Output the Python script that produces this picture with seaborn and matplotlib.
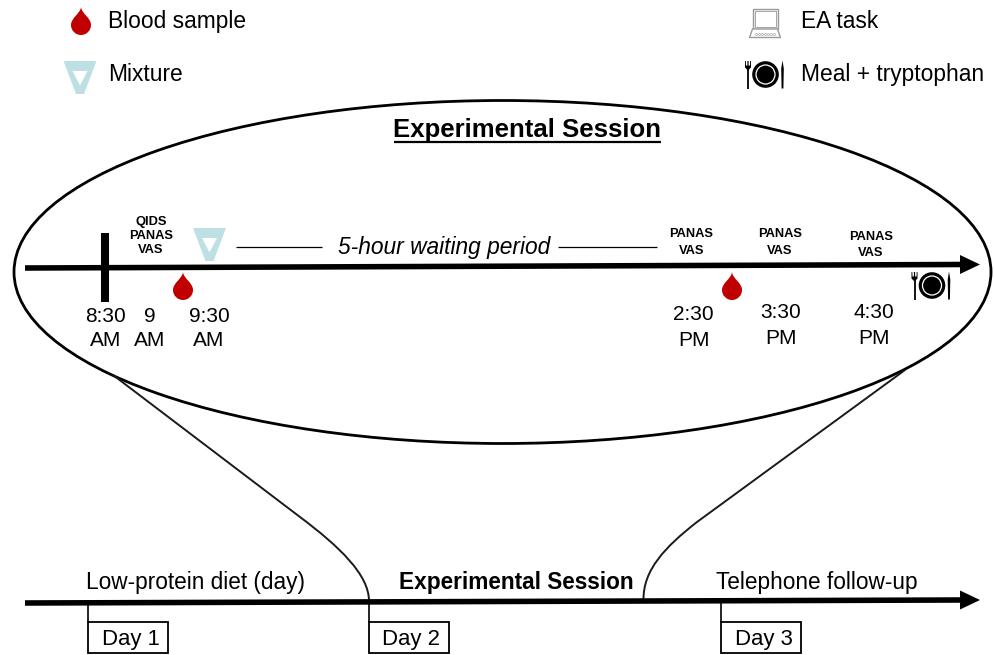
import matplotlib
matplotlib.use("Agg")
import matplotlib.pyplot as plt
import seaborn as sns
import numpy as np
from matplotlib.patches import Ellipse, PathPatch, Polygon, Rectangle, Circle
from matplotlib.path import Path

sns.set_theme(style="white")
plt.rcParams['font.family'] = ['Liberation Sans', 'DejaVu Sans']

# ---- content ----
legend_left = ["Blood sample", "Mixture"]
legend_right = ["EA task", "Meal + tryptophan"]
session_title = "Experimental Session"
waiting_label = "5-hour waiting period"
time_labels = ["8:30\nAM", "9\nAM", "9:30\nAM", "2:30\nPM", "3:30\nPM", "4:30\nPM"]
time_x = [105.5, 150, 209, 693.5, 781, 873.5]
time_y = [328, 328, 328, 327, 325, 325]
scale_labels = ["QIDS\nPANAS\nVAS", "PANAS\nVAS", "PANAS\nVAS", "PANAS\nVAS"]
scale_x = [151, 691.5, 780, 871]
scale_y = [236, 242.5, 242.5, 245]
blood_x = [183, 732]
day_labels = ["Day 1", "Day 2", "Day 3"]
day_x = [88, 369, 721]
phase_labels = ["Low-protein diet (day)", "Experimental Session", "Telephone follow-up"]
phase_x = [195, 516, 817]
phase_weight = ["normal", "bold", "normal"]

INK = "black"
RED = "#c00000"
TEAL = "#bde0e4"

fig, ax = plt.subplots(figsize=(9.94, 6.55), dpi=100)
fig.subplots_adjust(0, 0, 1, 1)
ax.set_xlim(0, 994)
ax.set_ylim(655, 0)
ax.axis("off")


def drop(cx, top, h=28, w=20):
    r = w / 2
    cy = top + h - r
    k = 0.5523 * r
    verts = [(cx, top),
             (cx - .6, top + h * .24), (cx - r, top + h * .38), (cx - r, cy),
             (cx - r, cy + k), (cx - k, cy + r), (cx, cy + r),
             (cx + k, cy + r), (cx + r, cy + k), (cx + r, cy),
             (cx + r, top + h * .38), (cx + .6, top + h * .24), (cx, top), (cx, top)]
    codes = [Path.MOVETO] + [Path.CURVE4] * 12 + [Path.CLOSEPOLY]
    ax.add_patch(PathPatch(Path(verts, codes), fc=RED, ec="none", zorder=4))


def mixture(cx, top):
    outer = [(cx - 16.5, top), (cx + 16.5, top), (cx + 4, top + 33), (cx - 4, top + 33), (cx - 16.5, top)]
    inner = [(cx - 7.5, top + 10), (cx, top + 24.5), (cx + 7.5, top + 10), (cx - 7.5, top + 10)]
    verts = outer + inner
    codes = [Path.MOVETO] + [Path.LINETO] * 3 + [Path.CLOSEPOLY] + [Path.MOVETO] + [Path.LINETO] * 2 + [Path.CLOSEPOLY]
    ax.add_patch(PathPatch(Path(verts, codes), fc=TEAL, ec="none", zorder=4))


def meal(cx, cy):
    ax.add_patch(Circle((cx, cy), 13.3, fc=INK, ec="none", zorder=4))
    ax.add_patch(Circle((cx, cy), 9.5, fc="none", ec="white", lw=0.9, zorder=5))
    # fork
    fx = cx - 17.5
    ax.plot([fx, fx], [cy - 6, cy + 14], color=INK, lw=1.3, zorder=4, solid_capstyle="butt")
    ax.add_patch(Polygon([(fx - 3, cy - 13.5), (fx - 2.2, cy - 13.5), (fx - 2, cy - 9), (fx - .6, cy - 9), (fx - .6, cy - 13.5),
                          (fx + .6, cy - 13.5), (fx + .6, cy - 9), (fx + 2, cy - 9), (fx + 2.2, cy - 13.5), (fx + 3, cy - 13.5),
                          (fx + 3, cy - 7), (fx, cy - 4), (fx - 3, cy - 7)],
                         fc=INK, ec="none", zorder=4))
    # knife
    kx = cx + 17
    ax.add_patch(Polygon([(kx - .9, cy + 14), (kx + .9, cy + 14), (kx + 1.3, cy - 6), (kx, cy - 14), (kx - 1.3, cy - 6)],
                         fc=INK, ec="none", zorder=4))


def laptop(cx, top):
    g = "#9a9a9a"
    ax.add_patch(Rectangle((cx - 12.5, top), 25, 20, fc="#f2f2f2", ec=g, lw=1.0))
    ax.add_patch(Rectangle((cx - 10.5, top + 2), 21, 15.5, fc="white", ec=g, lw=.6))
    ax.add_patch(Polygon([(cx - 12.5, top + 20), (cx + 12.5, top + 20), (cx + 15.5, top + 28.5), (cx - 15.5, top + 28.5)],
                         closed=True, fc="white", ec=g, lw=1.0))
    ax.plot(np.linspace(cx - 9, cx + 9, 7), [top + 24.5] * 7, ls="none", marker="o", ms=1.5, mfc="white", mec=g, mew=.4)


def arrow_line(y0, y1, x0=25, x1=960, lw=4.0):
    sns.lineplot(x=[x0, x1], y=[y0, y1], color=INK, lw=lw, ax=ax, zorder=3, errorbar=None,
                 sort=False, solid_capstyle="butt")
    ax.add_patch(Polygon([(x1, y1 - 9.5), (x1 + 20, y1), (x1, y1 + 9.5)], closed=True, fc=INK, ec="none", zorder=3))


# legend
drop(81, 7, 28, 20)
mixture(80, 61)
laptop(765, 9)
meal(765.5, 74.5)
LEG = 16.4
ax.text(108, 21.5, legend_left[0], fontsize=LEG, ha="left", va="center", color=INK)
ax.text(108, 74.5, legend_left[1], fontsize=LEG, ha="left", va="center", color=INK)
ax.text(801, 21.5, legend_right[0], fontsize=LEG, ha="left", va="center", color=INK)
ax.text(801, 74.5, legend_right[1], fontsize=LEG, ha="left", va="center", color=INK)

# ellipse
ax.add_patch(Ellipse((502.5, 272), 977, 343, fc="none", ec=INK, lw=2.0, zorder=2))
ax.text(527, 130, session_title, fontsize=18.5, fontweight="bold", ha="center", va="center", color=INK)
ax.plot([394, 661], [142, 142], color=INK, lw=1.6, solid_capstyle="butt")

# session timeline
arrow_line(268, 264.5)
ax.plot([105, 105], [233, 302], color=INK, lw=5.8, solid_capstyle="butt", zorder=3)
for x in blood_x:
    drop(x, 272, 28, 20)
mixture(209.5, 228)
meal(932, 285.5)

ax.text(444.5, 247.5, waiting_label, fontsize=LEG, style="italic", ha="center", va="center", color=INK)
ax.plot([236, 322], [247, 247], color=INK, lw=0.9, solid_capstyle="butt")
ax.plot([558, 657], [247, 247], color=INK, lw=0.9, solid_capstyle="butt")

for i, (s, x, y) in enumerate(zip(scale_labels, scale_x, scale_y)):
    ax.text(x, y, s, fontsize=9.3, fontweight="bold", ha="center", va="center", color=INK,
            linespacing=1.25 if i == 0 else 1.5)
for s, x, y in zip(time_labels, time_x, time_y):
    ax.text(x, y + 0.5, s, fontsize=15.0, ha="center", va="center", color=INK, linespacing=1.4)

# connector curves
L, C = Path.LINETO, Path.CURVE4
for v in ([(113, 375), (300, 517), (340, 547), (369, 575), (369, 601)],
          [(905, 370), (697, 522), (665, 547), (643, 570), (643.5, 600)]):
    ax.add_patch(PathPatch(Path(v, [Path.MOVETO, L, C, C, C]), fc="none", ec="#1a1a1a", lw=1.4, zorder=2))

# overall timeline
arrow_line(603, 600)
for s, x in zip(day_labels, day_x):
    ax.plot([x, x], [601, 622], color=INK, lw=1.2, solid_capstyle="butt", zorder=2)
    ax.add_patch(Rectangle((x, 622), 80, 31, fc="white", ec=INK, lw=1.3, zorder=2))
    ax.text(x + 42.5, 639, s, fontsize=15.9, ha="center", va="center", color=INK)
for s, x, w in zip(phase_labels, phase_x, phase_weight):
    ax.text(x, 582.5, s, fontsize=16.3, fontweight=w, ha="center", va="center", color=INK)

fig.savefig("out.png", dpi=100)
